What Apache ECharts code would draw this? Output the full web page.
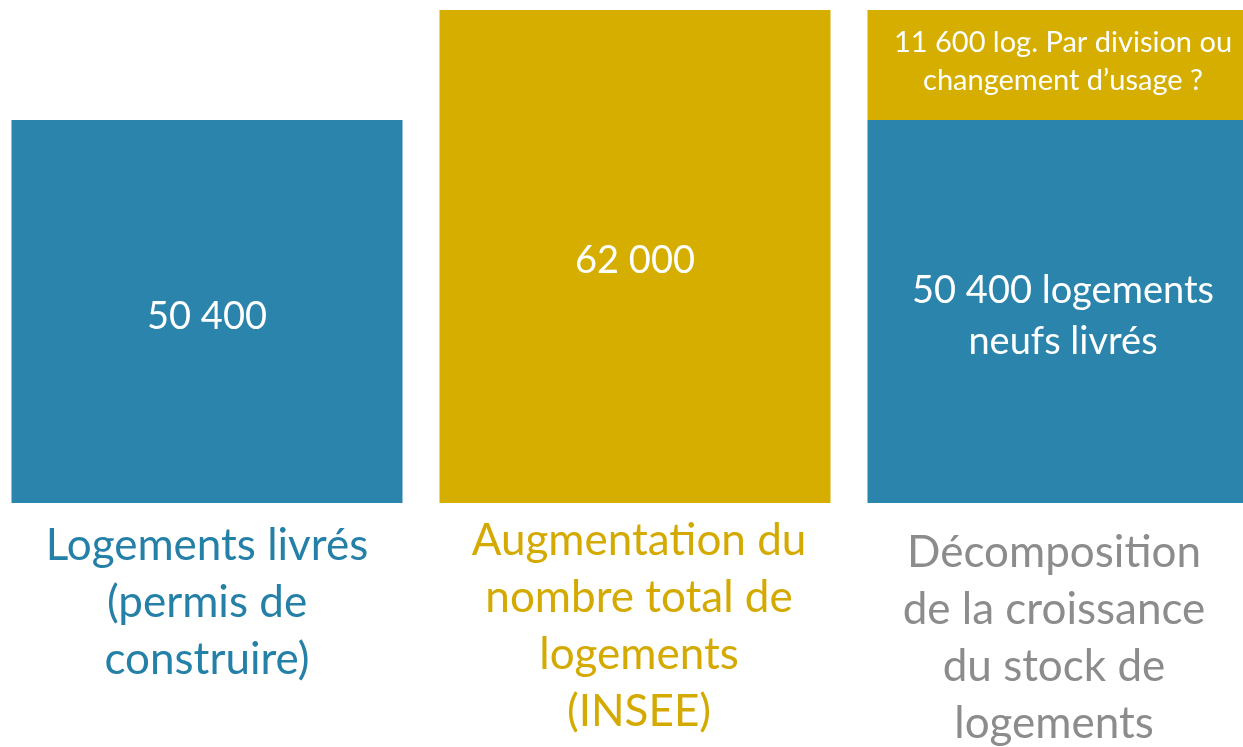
<!DOCTYPE html>
<html lang="fr">
<head>
<meta charset="UTF-8">
<title>Logements</title>
<style>
  html, body { margin: 0; padding: 0; background: #fff; }
  #main { width: 1243px; height: 747px; }
</style>
</head>
<body>
<div id="main"></div>
<script src="https://cdn.jsdelivr.net/npm/echarts@6/dist/echarts.min.js"></script>
<script>
var categories = [
    'Logements livrés\n(permis de\nconstruire)',
    'Augmentation du\nnombre total de\nlogements\n(INSEE)',
    'Décomposition\nde la croissance\ndu stock de\nlogements'
];
var labelColors = ['#2580a8', '#d4aa00', '#8c8c8c'];
var neufs = [50400, null, 50400];          // logements neufs livrés
var autres = [null, 62000, 11600];         // augmentation / division ou changement d'usage
var neufsLabels = ['50 400', '', '50 400 logements\nneufs livrés'];
var autresLabels = ['', '62 000', '11 600 log. Par division ou\nchangement d\u2019usage ?'];

var BLUE = '#2a84ab';
var GOLD = '#d5ae00';
var FONT = 'Lato, "Open Sans", sans-serif';

// decalage des libelles sous les barres
var labelPads = [[6, 0, 0, 0], [1, 0, 0, 8], [13, 18, 0, 0]];

var myChart = echarts.init(document.getElementById('main'));

var option = {
    animation: false,
    grid: { left: -7, right: -34, top: 10, bottom: 244, containLabel: false, outerBoundsMode: 'none' },
    xAxis: {
        type: 'category',
        data: categories.map(function (c, i) {
            return { value: c, textStyle: { color: labelColors[i], padding: labelPads[i] } };
        }),
        axisLine: { show: false },
        axisTick: { show: false },
        axisLabel: {
            interval: 0,
            margin: 8,
            fontFamily: FONT,
            fontSize: 44,
            lineHeight: 57
        }
    },
    yAxis: {
        type: 'value',
        min: 10000,
        max: 62000,
        show: false,
        splitLine: { show: false }
    },
    series: [
        {
            name: 'neufs',
            type: 'bar',
            stack: 'total',
            barWidth: 391,
            itemStyle: { color: BLUE },
            data: neufs.map(function (v, i) {
                return { value: v, label: { formatter: neufsLabels[i] } };
            }),
            label: {
                show: true,
                position: 'inside',
                offset: [0, 5],
                color: '#fff',
                fontFamily: FONT,
                fontSize: 38,
                lineHeight: 51
            }
        },
        {
            name: 'autres',
            type: 'bar',
            stack: 'total',
            barWidth: 391,
            itemStyle: { color: GOLD },
            data: autres.map(function (v, i) {
                var lb = { formatter: autresLabels[i] };
                if (i == 2) { lb.fontSize = 29; lb.lineHeight = 38; lb.offset = [0, -3]; }
                return { value: v, label: lb };
            }),
            label: {
                show: true,
                position: 'inside',
                offset: [0, 4],
                color: '#fff',
                fontFamily: FONT,
                fontSize: 38,
                lineHeight: 51
            }
        }
    ]
};
myChart.setOption(option);
</script>
</body>
</html>
